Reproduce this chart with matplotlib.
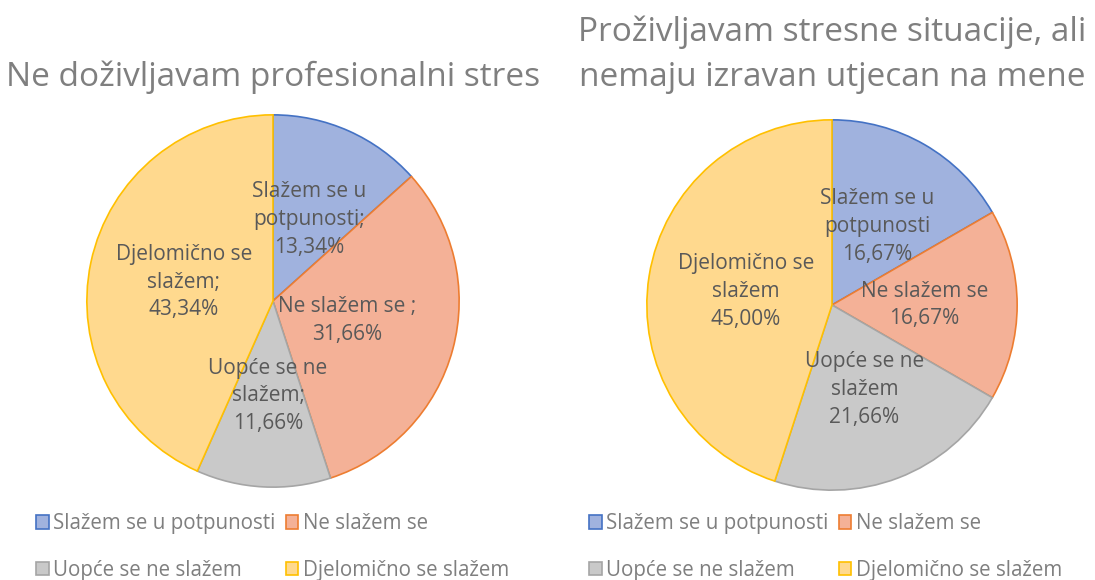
import matplotlib
matplotlib.use("Agg")
import matplotlib.pyplot as plt
from matplotlib.patches import Patch

plt.rcParams["font.family"] = ["Open Sans", "DejaVu Sans"]

# ── podaci ─────────────────────────────────────────────────────────────
categories = ["Slažem se u potpunosti", "Ne slažem se",
              "Uopće se ne slažem", "Djelomično se slažem"]
left_title = "Ne doživljavam profesionalni stres"
left_values = [13.34, 31.66, 11.66, 43.34]
left_labels = ["Slažem se u\npotpunosti;\n13,34%", "Ne slažem se ;\n31,66%",
               "Uopće se ne\nslažem;\n11,66%", "Djelomično se\nslažem;\n43,34%"]
right_title = "Proživljavam stresne situacije, ali\nnemaju izravan utjecan na mene"
right_values = [16.67, 16.67, 21.66, 45.00]
right_labels = ["Slažem se u\npotpunosti\n16,67%", "Ne slažem se\n16,67%",
                "Uopće se ne\nslažem\n21,66%", "Djelomično se\nslažem\n45,00%"]

FILLS = ["#A0B2DE", "#F4B197", "#C9C9C9", "#FFD98E"]
EDGES = ["#4472C4", "#ED7D31", "#A5A5A5", "#FFC000"]
TXT = "#595959"

W, H = 1095, 580
fig = plt.figure(figsize=(W / 100, H / 100), dpi=100)


def draw_pie(cx, cy, r, values, labels, dists, title, title_y, legend_x):
    ax = fig.add_axes([(cx - r) / W, (H - cy - r) / H, 2 * r / W, 2 * r / H])
    wedges, texts = ax.pie(values, labels=labels, colors=FILLS, startangle=90,
                           counterclock=False, radius=1, labeldistance=0.5,
                           wedgeprops=dict(linewidth=1.2),
                           textprops=dict(color=TXT, fontsize=15,
                                          ha="center", va="center",
                                          linespacing=1.42))
    for w, t, e, d in zip(wedges, texts, EDGES, dists):
        w.set_edgecolor(e)
        x, y = t.get_position()
        t.set_position((x * d / 0.5, y * d / 0.5))
        t.set_horizontalalignment("center")
    ax.set_xlim(-1.01, 1.01)
    ax.set_ylim(-1.01, 1.01)
    ax.set_aspect("equal")
    ax.axis("off")
    fig.text(cx / W, 1 - title_y / H, title, ha="center", va="center",
             fontsize=24, color="#7F7F7F", linespacing=1.5)

    # legenda: red 1 = [0, 1], red 2 = [2, 3]
    order = [0, 2, 1, 3]
    handles = [Patch(facecolor=FILLS[i], edgecolor=EDGES[i], linewidth=1.2)
               for i in order]
    fig.legend(handles, [categories[i] for i in order], ncol=2,
               loc="center left", bbox_to_anchor=(legend_x / W, 1 - 547 / H),
               frameon=False, fontsize=14.8, labelcolor="#7F7F7F",
               handlelength=0.62, handleheight=0.62, handletextpad=0.2,
               columnspacing=0.5, labelspacing=1.25, borderaxespad=0)


draw_pie(273, 301, 188, left_values, left_labels,
         [0.48, 0.41, 0.51, 0.49], left_title, 77, 28)
draw_pie(832, 305, 187, right_values, right_labels,
         [0.49, 0.5, 0.49, 0.47], right_title, 55, 581)

fig.savefig("out.png", dpi=100)
